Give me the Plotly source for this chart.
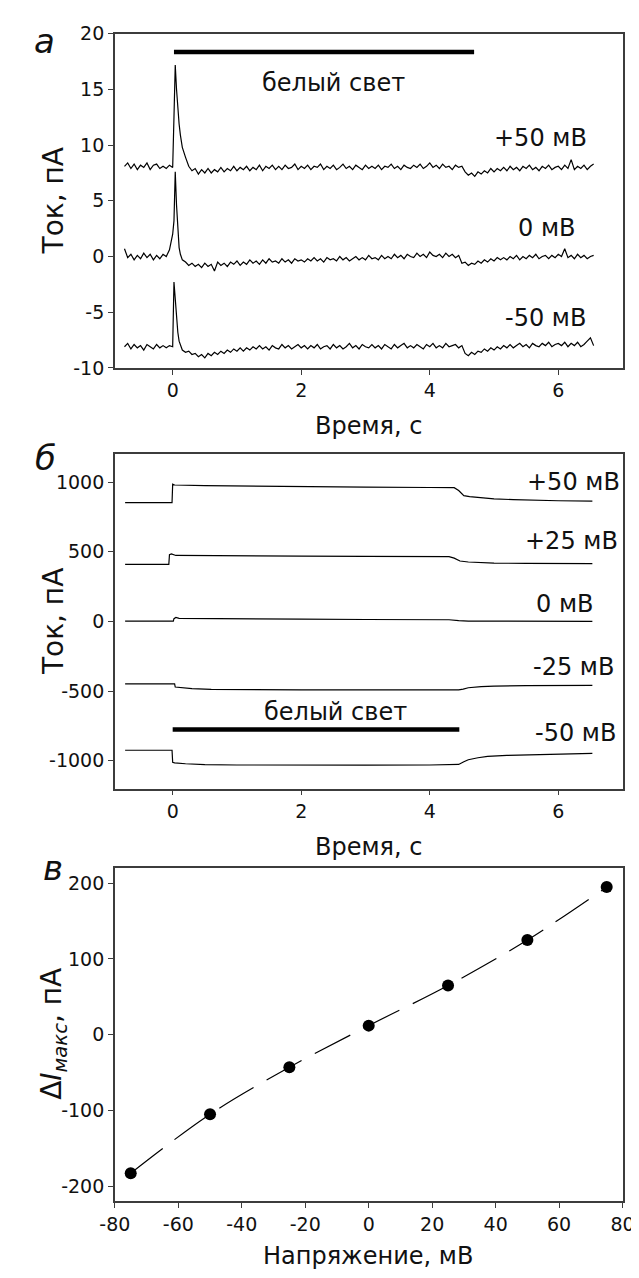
import plotly.graph_objects as go

# ---------------- Panel a data (pA vs s) ----------------
t_a = [-0.75, -0.70, -0.65, -0.60, -0.55, -0.50, -0.45, -0.40, -0.35, -0.30, -0.25, -0.20, -0.15, -0.10, -0.05,
       0.00, 0.02, 0.04, 0.06, 0.08, 0.10, 0.12,
       0.15, 0.20, 0.25, 0.30, 0.35, 0.40, 0.45, 0.50, 0.55, 0.60, 0.65, 0.70, 0.75, 0.80, 0.85, 0.90, 0.95, 1.00, 1.05, 1.10,
       1.15, 1.20, 1.25, 1.30, 1.35, 1.40, 1.45, 1.50, 1.55, 1.60, 1.65, 1.70, 1.75, 1.80, 1.85, 1.90, 1.95, 2.00, 2.05, 2.10,
       2.15, 2.20, 2.25, 2.30, 2.35, 2.40, 2.45, 2.50, 2.55, 2.60, 2.65, 2.70, 2.75, 2.80, 2.85, 2.90, 2.95, 3.00, 3.05, 3.10,
       3.15, 3.20, 3.25, 3.30, 3.35, 3.40, 3.45, 3.50, 3.55, 3.60, 3.65, 3.70, 3.75, 3.80, 3.85, 3.90, 3.95, 4.00, 4.05, 4.10,
       4.15, 4.20, 4.25, 4.30, 4.35, 4.40, 4.45, 4.50, 4.55, 4.60, 4.65, 4.70, 4.75, 4.80, 4.85, 4.90, 4.95, 5.00, 5.05, 5.10,
       5.15, 5.20, 5.25, 5.30, 5.35, 5.40, 5.45, 5.50, 5.55, 5.60, 5.65, 5.70, 5.75, 5.80, 5.85, 5.90, 5.95, 6.00, 6.05, 6.10,
       6.15, 6.20, 6.25, 6.30, 6.35, 6.40, 6.45, 6.50, 6.55]

i_a_p50 = [8.1, 8.4, 7.9, 8.3, 7.8, 8.2, 8.0, 8.4, 7.8, 8.2, 8.3, 7.9, 8.1, 7.9, 8.2,
           8.0, 12.5, 17.2, 15.0, 13.2, 11.9, 10.9,
           9.8, 8.9, 8.1, 7.7, 7.9, 7.4, 7.8, 7.5, 7.9, 7.5, 7.8, 7.6, 8.0, 7.6, 7.9, 7.7, 8.1, 7.7, 8.0, 7.8,
           8.1, 7.7, 8.0, 7.8, 8.2, 7.7, 8.1, 7.9, 8.2, 7.8, 8.1, 7.8, 8.2, 7.9, 8.0, 8.3, 7.8, 8.1, 7.9, 8.2,
           7.8, 8.1, 8.0, 8.3, 7.8, 8.1, 7.9, 8.2, 7.8, 8.0, 8.3, 7.9, 8.1, 7.8, 8.2, 8.0, 7.8, 8.2, 7.9, 8.1,
           7.9, 8.2, 7.8, 8.1, 8.0, 8.3, 7.9, 8.1, 7.8, 8.2, 8.0, 7.9, 8.2, 8.0, 8.3, 7.9, 8.1, 8.4, 8.0, 8.2,
           7.9, 8.3, 8.0, 8.1, 7.8, 8.2, 8.0, 8.1, 7.6, 7.3, 7.5, 7.2, 7.6, 7.4, 7.7, 7.5, 7.9, 7.6, 7.9, 7.7,
           8.0, 7.7, 8.1, 7.8, 8.0, 7.7, 8.1, 7.9, 8.2, 7.8, 8.0, 7.7, 8.1, 7.9, 8.2, 7.8, 8.0, 8.1, 7.8, 8.2,
           7.9, 8.7, 7.8, 8.1, 7.9, 8.2, 7.8, 8.1, 8.3]

i_a_0 = [0.7, -0.1, 0.2, -0.3, 0.1, -0.2, 0.3, -0.1, 0.2, -0.3, 0.1, -0.2, 0.2, 0.0, 0.6,
         2.0, 3.2, 7.6, 4.6, 2.1, 0.8, 0.2,
         -0.3, -0.5, -0.8, -0.6, -0.9, -0.7, -1.0, -0.6, -0.9, -0.7, -1.3, -0.5, -0.8, -0.6, -0.9, -0.5, -0.7, -0.4, -0.8, -0.5,
         -0.7, -0.3, -0.6, -0.4, -0.7, -0.3, -0.6, -0.2, -0.5, -0.4, -0.6, -0.2, -0.5, -0.3, -0.6, -0.2, -0.4, -0.3, -0.5, -0.2,
         -0.4, -0.1, -0.4, -0.2, -0.5, -0.1, -0.3, -0.2, -0.4, 0.0, -0.3, -0.1, -0.4, -0.2, 0.0, -0.3, -0.1, -0.3, 0.1, -0.2,
         -0.1, -0.3, 0.1, -0.2, 0.0, -0.2, 0.2, -0.1, 0.1, -0.2, 0.2, 0.0, -0.1, 0.3, 0.0, 0.2, -0.1, 0.4, 0.1, 0.0,
         0.2, -0.1, 0.3, 0.0, 0.2, -0.1, 0.1, -0.6, -0.5, -0.8, -0.6, -0.7, -0.4, -0.6, -0.3, -0.5, -0.2, -0.4, -0.1, -0.3,
         -0.1, -0.3, 0.0, -0.2, 0.1, -0.3, 0.0, -0.2, 0.1, -0.1, 0.2, -0.2, 0.0, 0.1, -0.2, 0.1, -0.1, 0.2, 0.0, 0.7,
         -0.1, 0.1, -0.2, 0.2, -0.1, 0.1, -0.2, 0.0, 0.1]

i_a_m50 = [-8.1, -7.8, -8.3, -7.9, -8.2, -8.0, -8.4, -7.9, -8.1, -8.3, -7.9, -8.2, -8.0, -8.2, -8.0,
           -8.1, -2.3, -3.8, -5.6, -6.8, -7.6, -8.0,
           -8.4, -8.6, -8.5, -8.8, -8.7, -9.0, -8.8, -9.1, -8.7, -8.9, -8.6, -8.8, -8.5, -8.7, -8.4, -8.6, -8.3, -8.5, -8.2, -8.5,
           -8.2, -8.4, -8.1, -8.3, -8.0, -8.3, -8.1, -8.4, -8.0, -8.2, -8.3, -7.9, -8.2, -8.0, -8.3, -8.1, -7.9, -8.2, -8.0, -8.3,
           -8.0, -8.2, -7.9, -8.3, -8.1, -8.0, -8.3, -7.9, -8.2, -8.0, -8.3, -8.1, -7.8, -8.2, -8.0, -8.3, -7.9, -8.1, -8.2, -7.9,
           -8.2, -8.0, -8.3, -7.9, -8.1, -8.3, -7.9, -8.2, -8.0, -7.8, -8.2, -8.0, -8.2, -7.9, -8.1, -8.3, -7.9, -8.1, -7.8, -8.2,
           -8.0, -8.2, -7.8, -8.1, -8.0, -7.9, -8.2, -8.0, -8.7, -8.9, -8.6, -8.8, -8.5, -8.6, -8.3, -8.5, -8.2, -8.4, -8.1, -8.3,
           -8.0, -8.2, -7.9, -8.2, -8.0, -7.8, -8.1, -7.9, -8.2, -7.8, -8.0, -8.1, -7.8, -8.0, -7.7, -8.1, -7.9, -7.8, -8.0, -7.7,
           -8.1, -7.8, -8.0, -7.7, -8.1, -7.9, -7.6, -7.3, -8.0]

labels_a = ["+50 мВ", "0 мВ", "-50 мВ"]
label_a_t = [5.73, 5.82, 5.80]
label_a_y = [10.65, 2.56, -5.53]
light_a_t = [0.02, 4.69]
light_a_y = [18.35, 18.35]
light_a_text_pos = (2.51, 15.6)

# ---------------- Panel b data (pA vs s) ----------------
t_b_p50 = [-0.74, -0.01, 0.00, 0.03, 0.5, 1.0, 2.0, 3.0, 4.0, 4.38, 4.45, 4.53, 4.62, 4.72, 4.84, 5.0, 5.3, 5.56, 6.0, 6.53]
i_b_p50 = [854, 854, 986, 980, 976, 973, 968, 965, 962, 961, 940, 904, 897, 892, 887, 880, 875, 871, 867, 864]

t_b_p25 = [-0.74, -0.06, -0.05, -0.02, 0.05, 0.5, 1.0, 2.0, 3.0, 4.0, 4.30, 4.38, 4.47, 4.60, 4.78, 5.0, 5.5, 6.0, 6.53]
i_b_p25 = [410, 410, 480, 485, 474, 472, 470, 469, 468, 467, 466, 455, 434, 427, 422, 419, 417, 416, 415]

t_b_0 = [-0.74, 0.01, 0.02, 0.05, 0.10, 0.5, 1.0, 2.0, 3.0, 4.0, 4.30, 4.45, 4.6, 5.0, 6.0, 6.53]
i_b_0 = [2, 2, 20, 29, 22, 20, 18, 16, 14, 13, 12, 6, 3, 2, 1, 1]

t_b_m25 = [-0.74, 0.03, 0.04, 0.15, 0.3, 0.6, 1.0, 2.0, 3.0, 4.0, 4.45, 4.52, 4.6, 4.8, 5.0, 5.5, 6.0, 6.53]
i_b_m25 = [-448, -448, -471, -478, -483, -488, -490, -491, -491, -492, -492, -486, -476, -468, -464, -461, -460, -459]

t_b_m50 = [-0.74, -0.01, 0.00, 0.03, 0.2, 0.5, 1.0, 2.0, 3.0, 4.0, 4.3, 4.45, 4.53, 4.6, 4.75, 4.9, 5.2, 5.5, 6.0, 6.53]
i_b_m50 = [-925, -925, -1012, -1016, -1022, -1028, -1031, -1033, -1032, -1031, -1030, -1027, -1008, -993, -979, -969, -962, -958, -953, -948]

labels_b = ["+50 мВ", "+25 мВ", "0 мВ", "-25 мВ", "-50 мВ"]
label_b_t = [6.23, 6.20, 6.10, 6.23, 6.26]
label_b_y = [1005, 575, 123, -330, -800]
light_b_t = [0.0, 4.46]
light_b_y = [-777, -777]
light_b_text_pos = (2.54, -647)

# ---------------- Panel c data ----------------
voltage_mv = [-75, -50, -25, 0, 25, 50, 75]
delta_i_pa = [-183, -105, -43, 12, 65, 125, 195]

# ---------------- Layout helpers ----------------
W, H = 639, 1278
FONT = "DejaVu Sans"
AX_COLOR = "#3c3c3c"
TXT = "#111111"


def px_x(px):
    return px / W


def px_y(py):
    return 1 - py / H


x_dom = [px_x(95), px_x(626)]
dom_a = [px_y(355), px_y(15)]
dom_b = [px_y(783), px_y(443)]
dom_c = [px_y(1203), px_y(864)]

axis_common = dict(
    showline=True, linecolor=AX_COLOR, linewidth=1.5, mirror=True,
    ticks="outside", ticklen=5, tickwidth=1.3, tickcolor=AX_COLOR,
    showgrid=False, zeroline=False,
    tickfont=dict(family=FONT, size=19, color=TXT),
)

fig = go.Figure()
line_style = dict(color="black", width=1.2)

for y in (i_a_p50, i_a_0, i_a_m50):
    fig.add_trace(go.Scatter(x=t_a, y=y, mode="lines", line=line_style, xaxis="x", yaxis="y",
                             showlegend=False, hoverinfo="skip"))
fig.add_trace(go.Scatter(x=light_a_t, y=light_a_y, mode="lines", line=dict(color="black", width=4.5),
                         xaxis="x", yaxis="y", showlegend=False, hoverinfo="skip"))

for tt, yy in ((t_b_p50, i_b_p50), (t_b_p25, i_b_p25), (t_b_0, i_b_0), (t_b_m25, i_b_m25), (t_b_m50, i_b_m50)):
    fig.add_trace(go.Scatter(x=tt, y=yy, mode="lines", line=line_style, xaxis="x2", yaxis="y2",
                             showlegend=False, hoverinfo="skip"))
fig.add_trace(go.Scatter(x=light_b_t, y=light_b_y, mode="lines", line=dict(color="black", width=4.5),
                         xaxis="x2", yaxis="y2", showlegend=False, hoverinfo="skip"))

fig.add_trace(go.Scatter(x=voltage_mv, y=delta_i_pa, mode="lines",
                         line=dict(color="black", width=1.2, dash="40px,15px", shape="spline"),
                         xaxis="x3", yaxis="y3", showlegend=False, hoverinfo="skip"))
fig.add_trace(go.Scatter(x=voltage_mv, y=delta_i_pa, mode="markers",
                         marker=dict(color="black", size=12),
                         xaxis="x3", yaxis="y3", showlegend=False, hoverinfo="skip"))

ticks_a = [-10, -5, 0, 5, 10, 15, 20]
ticks_b = [-1000, -500, 0, 500, 1000]
ticks_c_y = [-200, -100, 0, 100, 200]
ticks_c_x = [-80, -60, -40, -20, 0, 20, 40, 60, 80]
ticks_t = [0, 2, 4, 6]

fig.update_layout(
    width=W, height=H,
    margin=dict(l=0, r=0, t=0, b=0),
    paper_bgcolor="white", plot_bgcolor="white",
    font=dict(family=FONT, color=TXT),
    xaxis=dict(axis_common, domain=x_dom, anchor="y", range=[-0.9, 7.0],
               tickvals=ticks_t, ticktext=[str(v) for v in ticks_t]),
    yaxis=dict(axis_common, domain=dom_a, anchor="x", range=[-10, 20],
               tickvals=ticks_a, ticktext=[str(v) for v in ticks_a]),
    xaxis2=dict(axis_common, domain=x_dom, anchor="y2", range=[-0.9, 7.0],
                tickvals=ticks_t, ticktext=[str(v) for v in ticks_t]),
    yaxis2=dict(axis_common, domain=dom_b, anchor="x2", range=[-1200, 1200],
                tickvals=ticks_b, ticktext=[str(v) for v in ticks_b]),
    xaxis3=dict(axis_common, domain=x_dom, anchor="y3", range=[-80, 80],
                tickvals=ticks_c_x, ticktext=[str(v) for v in ticks_c_x]),
    yaxis3=dict(axis_common, domain=dom_c, anchor="x3", range=[-220, 220],
                tickvals=ticks_c_y, ticktext=[str(v) for v in ticks_c_y]),
)

ann = []
lab_font = dict(family=FONT, size=24, color=TXT)
for txt, tx, ty in zip(labels_a, label_a_t, label_a_y):
    ann.append(dict(x=tx, y=ty, xref="x", yref="y", text=txt, showarrow=False, font=lab_font))
ann.append(dict(x=light_a_text_pos[0], y=light_a_text_pos[1], xref="x", yref="y", text="белый свет",
                showarrow=False, font=lab_font))
for txt, tx, ty in zip(labels_b, label_b_t, label_b_y):
    ann.append(dict(x=tx, y=ty, xref="x2", yref="y2", text=txt, showarrow=False, font=lab_font))
ann.append(dict(x=light_b_text_pos[0], y=light_b_text_pos[1], xref="x2", yref="y2", text="белый свет",
                showarrow=False, font=lab_font))

xtitle_font = dict(family=FONT, size=24, color=TXT)
ytitle_font = dict(family=FONT, size=28, color=TXT)
# y titles
for text, ypx in (("Ток, пА", 185), ("Ток, пА", 613),
                  ("Δ<i>I</i><sub><i>макс</i></sub>, пА", 1033)):
    ann.append(dict(x=px_x(31), y=px_y(ypx), xref="paper", yref="paper", text=text, textangle=-90,
                    showarrow=False, font=ytitle_font, xanchor="center", yanchor="middle"))
# x titles
for text, ypx in (("Время, с", 414), ("Время, с", 843), ("Напряжение, мВ", 1259)):
    ann.append(dict(x=px_x(360), y=px_y(ypx), xref="paper", yref="paper", text=text,
                    showarrow=False, font=xtitle_font, xanchor="center", yanchor="middle"))
# panel letters
letter_font = dict(family=FONT, size=34, color=TXT)
for text, xpx, ypx in (("<i>а</i>", 21, 22), ("<i>б</i>", 22, 447), ("<i>в</i>", 30, 864)):
    ann.append(dict(x=px_x(xpx), y=px_y(ypx), xref="paper", yref="paper", text=text,
                    showarrow=False, font=letter_font, xanchor="center", yanchor="middle"))

fig.update_layout(annotations=ann)
fig.write_html("out.html")
